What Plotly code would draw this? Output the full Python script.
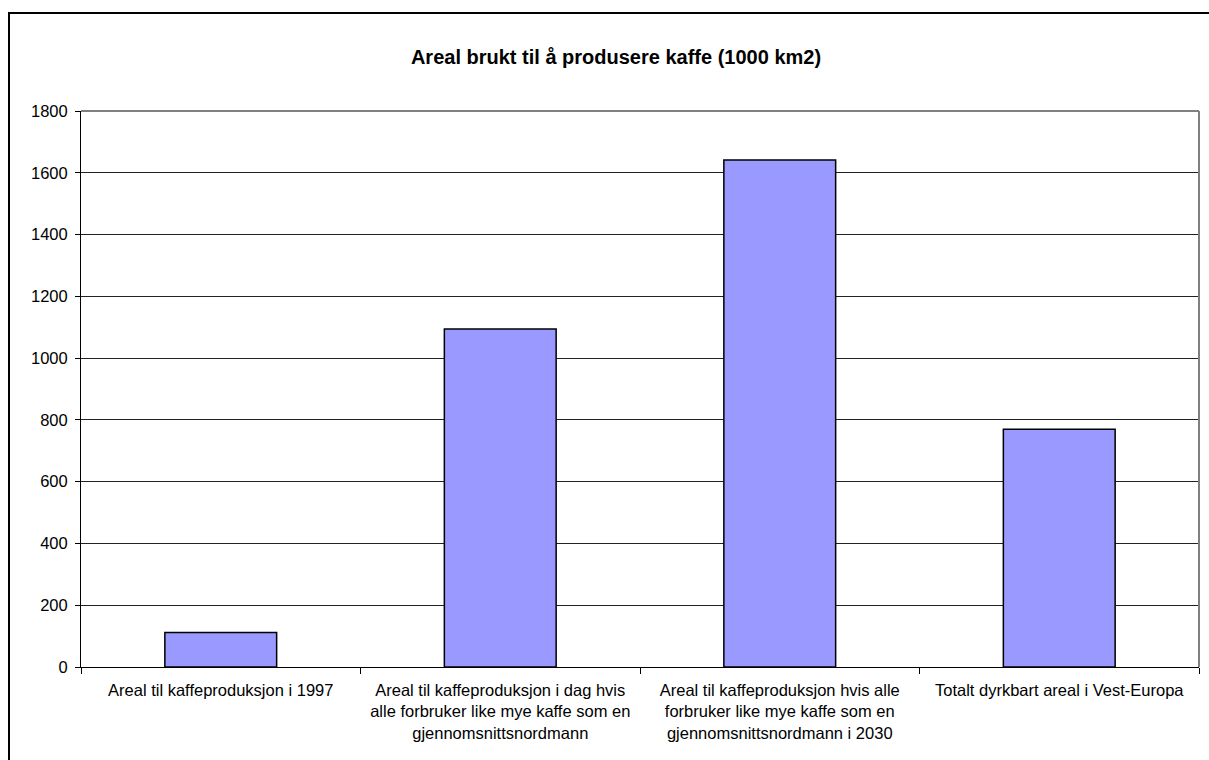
import plotly.graph_objects as go

# Kategorier og verdier (1000 km2)
categories = [
    "Areal til kaffeproduksjon i 1997",
    "Areal til kaffeproduksjon i dag hvis<br>alle forbruker like mye kaffe som en<br>gjennomsnittsnordmann",
    "Areal til kaffeproduksjon hvis alle<br>forbruker like mye kaffe som en<br>gjennomsnittsnordmann i 2030",
    "Totalt dyrkbart areal i Vest-Europa",
]
values = [112, 1094, 1641, 770]
y_ticks = [0, 200, 400, 600, 800, 1000, 1200, 1400, 1600, 1800]

FONT = "Liberation Sans, Arial, sans-serif"
W, H = 1209, 760
L, R, T, B = 81, 10, 111, 93
pw, ph = W - L - R, H - T - B

fig = go.Figure(
    go.Bar(
        x=categories,
        y=values,
        marker=dict(color="#9999FF", line=dict(color="#000000", width=1.5)),
        width=0.4,
    )
)

fig.update_layout(
    width=W,
    height=H,
    margin=dict(l=L, r=R, t=T, b=B, autoexpand=False),
    paper_bgcolor="white",
    plot_bgcolor="white",
    showlegend=False,
    font=dict(family=FONT, size=16.5, color="black"),
    title=dict(
        text="<b>Areal brukt til å produsere kaffe (1000 km2)</b>",
        x=616 / W,
        xanchor="center",
        y=1 - 57 / H,
        yanchor="middle",
        font=dict(family=FONT, size=20, color="black"),
    ),
    xaxis=dict(
        type="category",
        tickson="boundaries",
        ticks="outside",
        ticklen=6,
        tickcolor="black",
        showline=True,
        linecolor="black",
        linewidth=1,
        showgrid=False,
        tickfont=dict(family=FONT, size=16.5),
        ticklabelstandoff=8,
        range=[-0.5, 3.5],
    ),
    yaxis=dict(
        range=[0, 1800],
        tickvals=y_ticks,
        ticks="outside",
        ticklen=5,
        tickcolor="black",
        showline=True,
        linecolor="black",
        linewidth=1,
        showgrid=True,
        gridcolor="#222222",
        gridwidth=1,
        zeroline=False,
        tickfont=dict(family=FONT, size=16.5),
        ticklabelstandoff=4,
    ),
    shapes=[
        # grå ramme rundt plottområdet (topp og høyre)
        dict(type="line", xref="paper", yref="paper", x0=0, x1=1, y0=1, y1=1,
             line=dict(color="#808080", width=2)),
        dict(type="line", xref="paper", yref="paper", x0=1, x1=1, y0=0, y1=1,
             line=dict(color="#808080", width=2)),
        # ytre diagramramme
        dict(type="rect", xref="paper", yref="paper",
             x0=(9 - L) / pw, x1=(W + 20 - L) / pw,
             y0=-(B + 20) / ph, y1=1 + (T - 13) / ph,
             line=dict(color="black", width=2), layer="above"),
    ],
)

fig.write_html("out.html")
